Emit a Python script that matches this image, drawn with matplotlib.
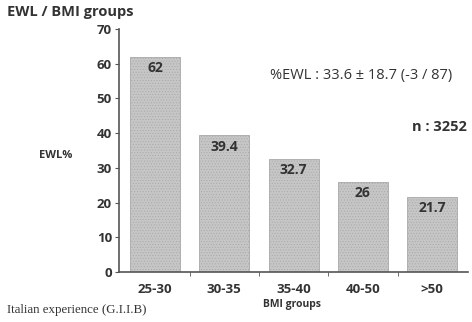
import matplotlib
matplotlib.use("Agg")
import matplotlib.pyplot as plt

groups = ["25-30", "30-35", "35-40", "40-50", ">50"]
ewl = [62, 39.4, 32.7, 26, 21.7]
value_labels = ["62", "39.4", "32.7", "26", "21.7"]

plt.rcParams["font.family"] = ["Open Sans", "DejaVu Sans"]
plt.rcParams["hatch.color"] = "#8c8c8c"
plt.rcParams["hatch.linewidth"] = 0.4

fig = plt.figure(figsize=(4.72, 3.22), dpi=100)
ax = fig.add_axes([0.252, 0.155, 0.740, 0.755])

x = list(range(len(groups)))
bars = ax.bar(x, ewl, width=0.72, color="#c6c6c6", edgecolor="#a8a8a8",
              linewidth=0.6, hatch="......")
for xi, v, lab in zip(x, ewl, value_labels):
    ax.text(xi, v - 1.3, lab, ha="center", va="top", fontsize=10,
            fontweight="bold", color="#333333")

ax.set_xlim(-0.52, 4.52)
ax.set_ylim(0, 70)
ax.set_yticks(range(0, 71, 10))
ax.set_xticks(x)
ax.set_xticklabels(groups)
ax.set_xticks([i + 0.5 for i in x[:-1]], minor=True)
ax.tick_params(axis="x", which="major", length=0, pad=8, labelsize=9.5,
               colors="#333333")
ax.tick_params(axis="x", which="minor", length=3, direction="out",
               color="#555555")
ax.tick_params(axis="y", length=3, direction="out", labelsize=9.5,
               colors="#333333", color="#555555", pad=2)
for lab in ax.get_xticklabels() + ax.get_yticklabels():
    lab.set_fontweight("bold")

for s in ["top", "right"]:
    ax.spines[s].set_visible(False)
for s in ["left", "bottom"]:
    ax.spines[s].set_color("#555555")
    ax.spines[s].set_linewidth(1.2)

fig.text(0.014, 0.963, "EWL / BMI groups", fontsize=10.5, fontweight="bold",
         color="#333333", va="center")
fig.text(0.083, 0.518, "EWL%", fontsize=8, fontweight="bold",
         color="#333333", va="center")
fig.text(0.572, 0.767, "%EWL : 33.6 \u00b1 18.7 (-3 / 87)", fontsize=10.5,
         color="#333333", va="center")
fig.text(0.99, 0.605, "n : 3252", fontsize=10.5, fontweight="bold",
         color="#333333", va="center", ha="right")
fig.text(0.619, 0.053, "BMI groups", fontsize=7.5, fontweight="bold",
         color="#333333", va="center", ha="center")
fig.text(0.014, 0.037, "Italian experience (G.I.I.B)", fontsize=9.3,
         family="Liberation Serif", color="#333333", va="center")

fig.savefig("out.png", dpi=100, facecolor="white")
